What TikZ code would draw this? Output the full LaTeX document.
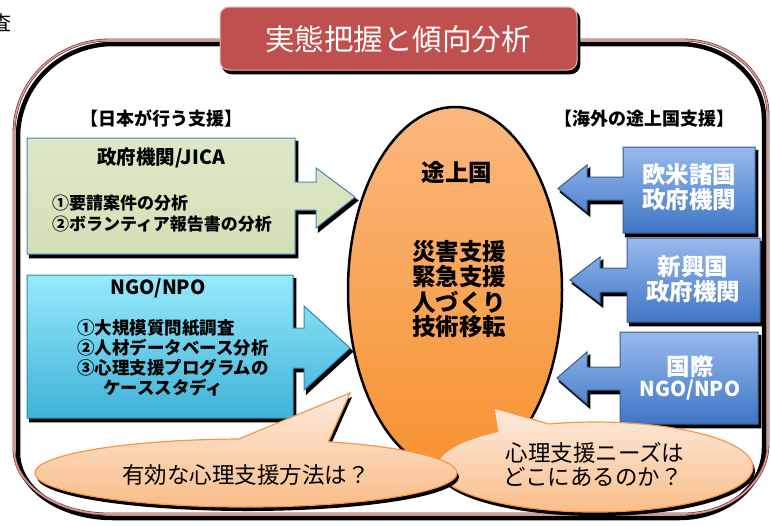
\documentclass[tikz,border=0pt]{standalone}
\usepackage{fontspec}
\setmainfont{Noto Sans CJK JP}
\definecolor{titlered}{HTML}{C0504D}
\definecolor{titleedge}{HTML}{E8B4B2}
\definecolor{greentop}{HTML}{DDE8C6}
\definecolor{greenbot}{HTML}{D2E0B6}
\definecolor{boxedge}{HTML}{4F81BD}
\definecolor{cyantop}{HTML}{97EAFB}
\definecolor{cyanbot}{HTML}{3EB2D8}
\definecolor{cyanedge}{HTML}{2E8BB0}
\definecolor{bluetop}{HTML}{97BAEE}
\definecolor{bluebot}{HTML}{3F75C6}
\definecolor{blueedge}{HTML}{385D8A}
\definecolor{orgtop}{HTML}{FBB87E}
\definecolor{orgbot}{HTML}{F7922F}
\definecolor{peachtop}{HTML}{FDEBDD}
\definecolor{peachbot}{HTML}{F9BC86}
\definecolor{peachedge}{HTML}{F79646}
\definecolor{framepink}{HTML}{D99694}
\definecolor{framedark}{HTML}{6B3030}
\tikzset{
  shadowed/.style={preaction={fill=black, draw=black, line width=1.5pt, transform canvas={shift={(2.5pt,-3.5pt)}}}},
  txt/.style={inner sep=0pt, outer sep=0pt},
  heading/.style={txt, font=\fontsize{18}{20}\selectfont\bfseries},
  boxhead/.style={txt, font=\fontsize{19.5}{21}\selectfont\bfseries},
  item/.style={txt, anchor=west, font=\fontsize{17}{19}\selectfont\bfseries},
  bigtxt/.style={txt, font=\fontsize{23.5}{25}\selectfont\bfseries},
  whitetxt/.style={txt, text=white, font=\fontsize{23.5}{25}\selectfont\bfseries},
  bubbletxt/.style={txt, font=\fontsize{22.5}{24}\selectfont},
  greenarrow/.style={shadowed, draw=boxedge, line width=1pt, top color=greentop, bottom color=greenbot},
  cyanarrow/.style={shadowed, draw=cyanedge, line width=1pt, top color=cyantop, bottom color=cyanbot},
  bluearrow/.style={shadowed, draw=blueedge, line width=1pt, top color=bluetop, bottom color=bluebot},
  bubble/.style={preaction={fill=black, transform canvas={shift={(2pt,-4pt)}}}, draw=peachedge, line width=1.2pt, top color=peachtop, bottom color=peachbot}
}
\begin{document}
\begin{tikzpicture}[x=1pt,y=-1pt]
\useasboundingbox (0,0) rectangle (771,525);

% cut-off character at top left
\node[txt, font=\fontsize{20}{22}\selectfont] (cut) at (1,23) {査};

% outer frame: black shadow line and pink line
\draw[black, line width=4.5pt]
  (18,137) -- (18,453) arc[start angle=180, end angle=90, x radius=95, y radius=65]
  -- (679,518) arc[start angle=90, end angle=0, x radius=85, y radius=70]
  -- (764,119) arc[start angle=0, end angle=-90, x radius=85, y radius=75]
  -- (113,44) arc[start angle=-90, end angle=-180, x radius=95, y radius=93] -- cycle;
\draw[framedark, line width=2.8pt]
  (14,133) -- (14,449) arc[start angle=180, end angle=90, x radius=95, y radius=65]
  -- (683,514) arc[start angle=90, end angle=0, x radius=85, y radius=70]
  -- (768,115) arc[start angle=0, end angle=-90, x radius=85, y radius=75]
  -- (109,40) arc[start angle=-90, end angle=-180, x radius=95, y radius=93] -- cycle;
\draw[framepink, line width=1.6pt]
  (14,133) -- (14,449) arc[start angle=180, end angle=90, x radius=95, y radius=65]
  -- (683,514) arc[start angle=90, end angle=0, x radius=85, y radius=70]
  -- (768,115) arc[start angle=0, end angle=-90, x radius=85, y radius=75]
  -- (109,40) arc[start angle=-90, end angle=-180, x radius=95, y radius=93] -- cycle;

% title box
\path[shadowed, fill=titlered, draw=titleedge, line width=1pt, rounded corners=9pt]
  (220,7) rectangle (577,70);
\node[txt, text=white, font=\fontsize{29.5}{31}\selectfont] (title) at (398,39) {実態把握と傾向分析};

% section headings
\node[heading] (hjapan) at (161,118) {【日本が行う支援】};
\node[heading] (habroad) at (644,119) {【海外の途上国支援】};

% green arrow box
\path[greenarrow] (27,138) -- (295,138) -- (295,182) -- (316,182) -- (316,168)
  -- (355,197) -- (316,228) -- (316,210) -- (295,210) -- (295,254) -- (27,254) -- cycle;
\node[boxhead] (jica) at (161,158) {政府機関/JICA};
\node[item] (j1) at (52,203) {①要請案件の分析};
\node[item] (j2) at (52,224) {②ボランティア報告書の分析};

% cyan arrow box
\path[cyanarrow] (27,275) -- (293,275) -- (293,328) -- (304,328) -- (304,306)
  -- (350,348) -- (304,390) -- (304,368) -- (293,368) -- (293,418) -- (27,418) -- cycle;
\node[boxhead] (ngo) at (158,288) {NGO/NPO};
\node[item, font=\fontsize{17.5}{19}\selectfont\bfseries] (n1) at (77,328) {①大規模質問紙調査};
\node[item, font=\fontsize{17.5}{19}\selectfont\bfseries] (n2) at (77,348) {②人材データベース分析};
\node[item, font=\fontsize{17.5}{19}\selectfont\bfseries] (n3) at (77,368) {③心理支援プログラムの};
\node[item, font=\fontsize{17.5}{19}\selectfont\bfseries] (n4) at (103,388) {ケーススタディ};

% central ellipse
\path[draw=black, line width=2.5pt, top color=orgtop, bottom color=orgbot]
  (455,290) ellipse [x radius=107, y radius=183];
\node[bigtxt] (dev) at (457,173) {途上国};
\node[bigtxt, anchor=west] (e1) at (412,252) {災害支援};
\node[bigtxt, anchor=west] (e2) at (412,277) {緊急支援};
\node[bigtxt, anchor=west] (e3) at (412,302) {人づくり};
\node[bigtxt, anchor=west] (e4) at (412,327) {技術移転};

% blue arrow boxes
\path[bluearrow] (623,147) -- (755,147) -- (755,233) -- (623,233) -- (623,200) -- (587,200)
  -- (587,212) -- (558,188.5) -- (587,165) -- (587,177) -- (623,177) -- cycle;
\node[whitetxt] (b1a) at (689,175) {欧米諸国};
\node[whitetxt] (b1b) at (689,200) {政府機関};

\path[bluearrow] (627,238) -- (760,238) -- (760,322) -- (627,322) -- (627,292) -- (600,292)
  -- (600,303) -- (570,280) -- (600,257) -- (600,268) -- (627,268) -- cycle;
\node[whitetxt] (b2a) at (693,267) {新興国};
\node[whitetxt] (b2b) at (693,292) {政府機関};

\path[bluearrow] (620,332) -- (758,332) -- (758,424) -- (620,424) -- (620,390) -- (587,390)
  -- (587,404) -- (557,378) -- (587,352) -- (587,367) -- (620,367) -- cycle;
\node[whitetxt] (b3a) at (690,367) {国際};
\node[whitetxt, font=\fontsize{20.5}{22}\selectfont\bfseries] (b3b) at (690,390) {NGO/NPO};

% speech bubbles
\path[bubble] (497.7,431.5) -- (494,408) -- (548.8,424)
  arc[start angle=253, end angle=592, x radius=158, y radius=45] -- cycle;
\node[bubbletxt] (q2a) at (595,453) {心理支援ニーズは};
\node[bubbletxt] (q2b) at (593,477) {どこにあるのか？};

\path[bubble] (238.6,439) -- (350,393) -- (328.4,441.7)
  arc[start angle=293, end angle=628, x radius=211, y radius=34] -- cycle;
\node[bubbletxt] (q1) at (246,475) {有効な心理支援方法は？};
\end{tikzpicture}
\end{document}
